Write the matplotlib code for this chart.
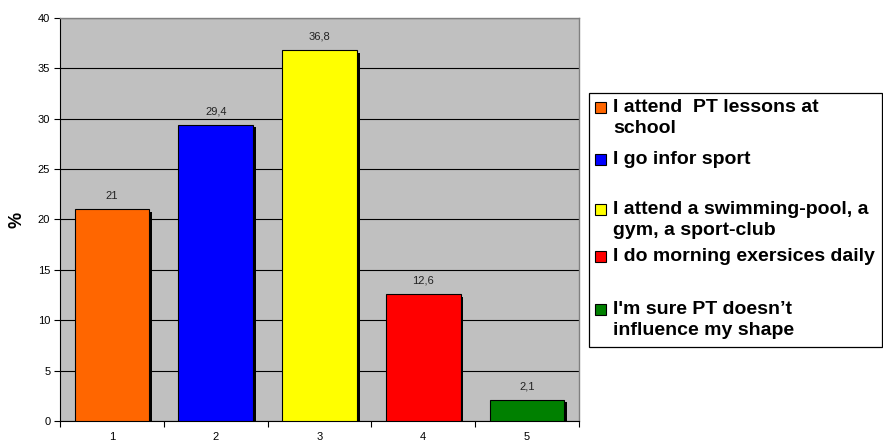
import matplotlib.pyplot as plt
import matplotlib.patheffects as pe
from matplotlib.patches import Rectangle

plt.rcParams['font.family'] = ['Liberation Sans', 'DejaVu Sans']

categories = ['1', '2', '3', '4', '5']
values = [21, 29.4, 36.8, 12.6, 2.1]
value_labels = ['21', '29,4', '36,8', '12,6', '2,1']
colors = ['#FF6600', '#0000FF', '#FFFF00', '#FF0000', '#008000']
legend_labels = ['I attend  PT lessons at\nschool',
                 'I go infor sport',
                 'I attend a swimming-pool, a\ngym, a sport-club',
                 'I do morning exersices daily',
                 "I'm sure PT doesn\u2019t\ninfluence my shape"]

W, H = 883, 445
fig = plt.figure(figsize=(W / 100, H / 100), dpi=100)
ax = fig.add_axes([60 / W, (H - 421) / H, (579 - 60) / W, (421 - 18) / H])
ax.set_facecolor('#C0C0C0')

x = range(len(values))
shadow = [pe.SimplePatchShadow(offset=(2, -1.8), shadow_rgbFace='black', alpha=1.0), pe.Normal()]
bars = ax.bar(x, values, width=0.72, color=colors, edgecolor='black', linewidth=0.8,
              zorder=3, path_effects=shadow)

for xi, v, lab in zip(x, values, value_labels):
    ax.annotate(lab, (xi, v), xytext=(0, 6), textcoords='offset points',
                ha='center', va='bottom', fontsize=8, color='#222222')

ax.set_xlim(-0.5, len(values) - 0.5)
ax.set_ylim(0, 40)
ax.set_yticks(range(0, 41, 5))
ax.yaxis.grid(True, color='black', linewidth=0.8, zorder=1)
ax.set_axisbelow(True)

# category boundaries get the ticks, the numbers sit in the middle
ax.set_xticks([i - 0.5 for i in range(len(values) + 1)])
ax.set_xticklabels([])
ax.set_xticks(list(x), minor=True)
ax.set_xticklabels(categories, minor=True)
ax.tick_params(axis='x', which='major', length=4, width=0.8, direction='out')
ax.tick_params(axis='x', which='minor', length=0, pad=8, labelsize=8)
ax.tick_params(axis='y', length=4, width=0.8, labelsize=8, pad=3)

for side in ['top', 'right']:
    ax.spines[side].set_color('#808080')
    ax.spines[side].set_linewidth(1.0)
for side in ['left', 'bottom']:
    ax.spines[side].set_color('black')
    ax.spines[side].set_linewidth(0.8)

fig.text(17 / W, 1 - 220 / H, '%', rotation=90, fontsize=13, fontweight='bold',
         ha='center', va='center')

# legend box drawn by hand so the swatch sits on the first line of each label
fig.patches.append(Rectangle((589 / W, 1 - 347 / H), (882 - 589) / W, (347 - 93) / H,
                             transform=fig.transFigure, facecolor='white',
                             edgecolor='black', linewidth=0.9))
first_line_y = [107, 159, 209, 256, 309]
for c, lab, yy in zip(colors, legend_labels, first_line_y):
    fig.patches.append(Rectangle((595 / W, 1 - (yy + 6) / H), 11 / W, 11 / H,
                                 transform=fig.transFigure, facecolor=c,
                                 edgecolor='black', linewidth=0.8))
    fig.text(613 / W, 1 - (yy - 8) / H, lab, fontsize=14, fontweight='bold',
             ha='left', va='top', linespacing=1.3)

fig.savefig('out.png', dpi=100)
